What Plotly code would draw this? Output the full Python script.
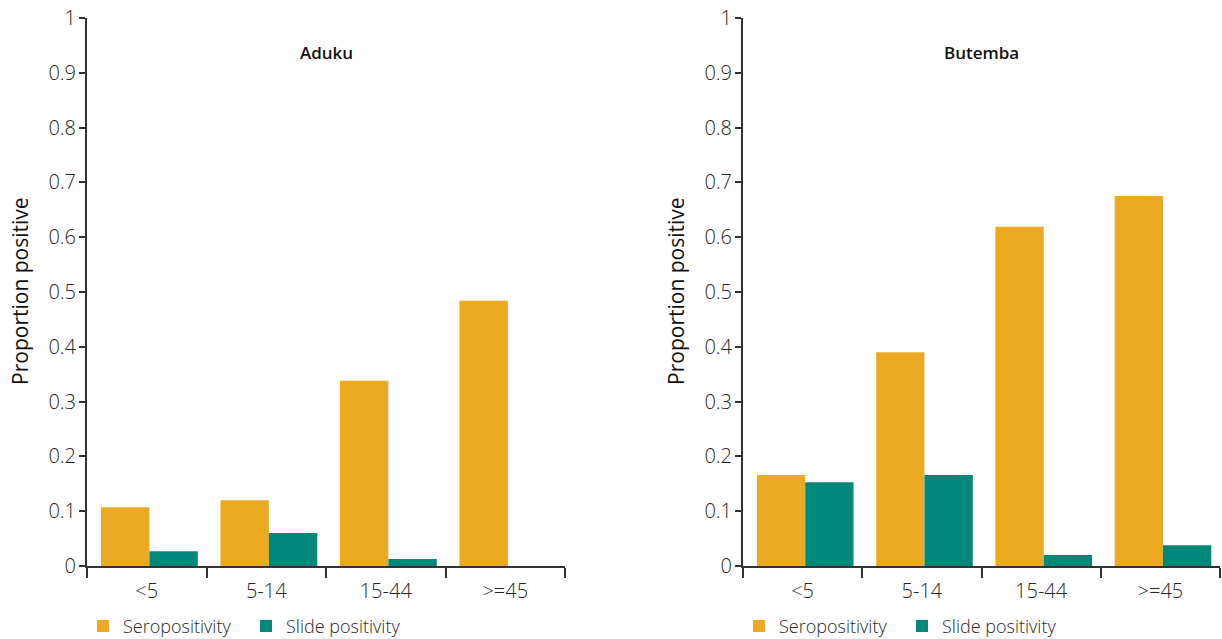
import plotly.graph_objects as go

categories = ["<5", "5-14", "15-44", ">=45"]
aduku_sero = [0.107, 0.12, 0.338, 0.484]
aduku_slide = [0.027, 0.06, 0.013, 0.0]
butemba_sero = [0.166, 0.39, 0.619, 0.675]
butemba_slide = [0.153, 0.166, 0.02, 0.038]
panel_titles = ["Aduku", "Butemba"]
series_names = ["Seropositivity", "Slide positivity"]
y_title = "Proportion positive"

ORANGE = "#EBAA22"
TEAL = "#00887A"
W, H = 1222, 639
MT, MB = 18, 73
BAR_W = 0.405

fig = go.Figure()
panels = [(aduku_sero, aduku_slide, "x", "y", "legend"),
          (butemba_sero, butemba_slide, "x2", "y2", "legend2")]
for sero, slide, xa, ya, lg in panels:
    fig.add_trace(go.Bar(x=categories, y=sero, name=series_names[0], marker_color=ORANGE,
                         marker_line_width=0, width=BAR_W, offset=-0.383,
                         xaxis=xa, yaxis=ya, legend=lg))
    fig.add_trace(go.Bar(x=categories, y=slide, name=series_names[1], marker_color=TEAL,
                         marker_line_width=0, width=BAR_W, offset=-0.383 + BAR_W,
                         xaxis=xa, yaxis=ya, legend=lg))

axis_color = "#333333"
tick_font = dict(family="Open Sans", size=20, color="#262626", weight=300)
xcommon = dict(type="category", range=[-0.5, 3.5], showline=True, linecolor=axis_color, linewidth=2,
               ticks="outside", tickson="boundaries", ticklen=10, tickwidth=2, tickcolor=axis_color,
               tickfont=tick_font, ticklabelstandoff=6, showgrid=False, zeroline=False)
ycommon = dict(range=[0, 1], dtick=0.1, showline=True, linecolor=axis_color, linewidth=2,
               ticks="outside", ticklen=6, tickwidth=2, tickcolor=axis_color, tickfont=tick_font,
               ticklabelstandoff=-1, showgrid=False, zeroline=False)

d1 = [87 / W, 565 / W]
d2 = [743 / W, 1220 / W]
legend_common = dict(orientation="h", xanchor="left", y=-0.11, yanchor="middle",
                     font=dict(family="Open Sans", size=18, color="#262626", weight=300),
                     entrywidth=118, itemwidth=30, bgcolor="rgba(0,0,0,0)")
fig.update_layout(
    width=W, height=H,
    margin=dict(l=0, r=0, t=MT, b=MB, autoexpand=False),
    paper_bgcolor="white", plot_bgcolor="white",
    barmode="group", bargap=0.19, bargroupgap=0,
    font=dict(family="Open Sans"),
    xaxis=dict(domain=d1, anchor="y", **xcommon),
    yaxis=dict(domain=[0, 1], anchor="x", **ycommon),
    xaxis2=dict(domain=d2, anchor="y2", **xcommon),
    yaxis2=dict(domain=[0, 1], anchor="x2", **ycommon),
    legend=dict(x=83 / W, **legend_common),
    legend2=dict(x=739 / W, **legend_common),
    showlegend=True,
)

plot_h = H - MT - MB
for i, t in enumerate(panel_titles):
    xd = d1 if i == 0 else d2
    fig.add_annotation(text=t, x=(xd[0] + xd[1]) / 2, xref="paper", xanchor="center",
                       y=(H - MB - 53) / plot_h, yref="paper", yanchor="middle",
                       showarrow=False,
                       font=dict(family="Open Sans", size=17, color="#111111", weight=600))
    # y-axis title for each panel
    fig.add_annotation(text=y_title, x=(xd[0] * W - 67) / W, xref="paper", xanchor="center",
                       y=0.502, yref="paper", yanchor="middle", textangle=-90,
                       showarrow=False,
                       font=dict(family="Open Sans", size=21, color="#111111"))

fig.write_html("out.html", config={"displayModeBar": False},
               post_script="document.body.style.margin='0';document.body.style.overflow='hidden';")
